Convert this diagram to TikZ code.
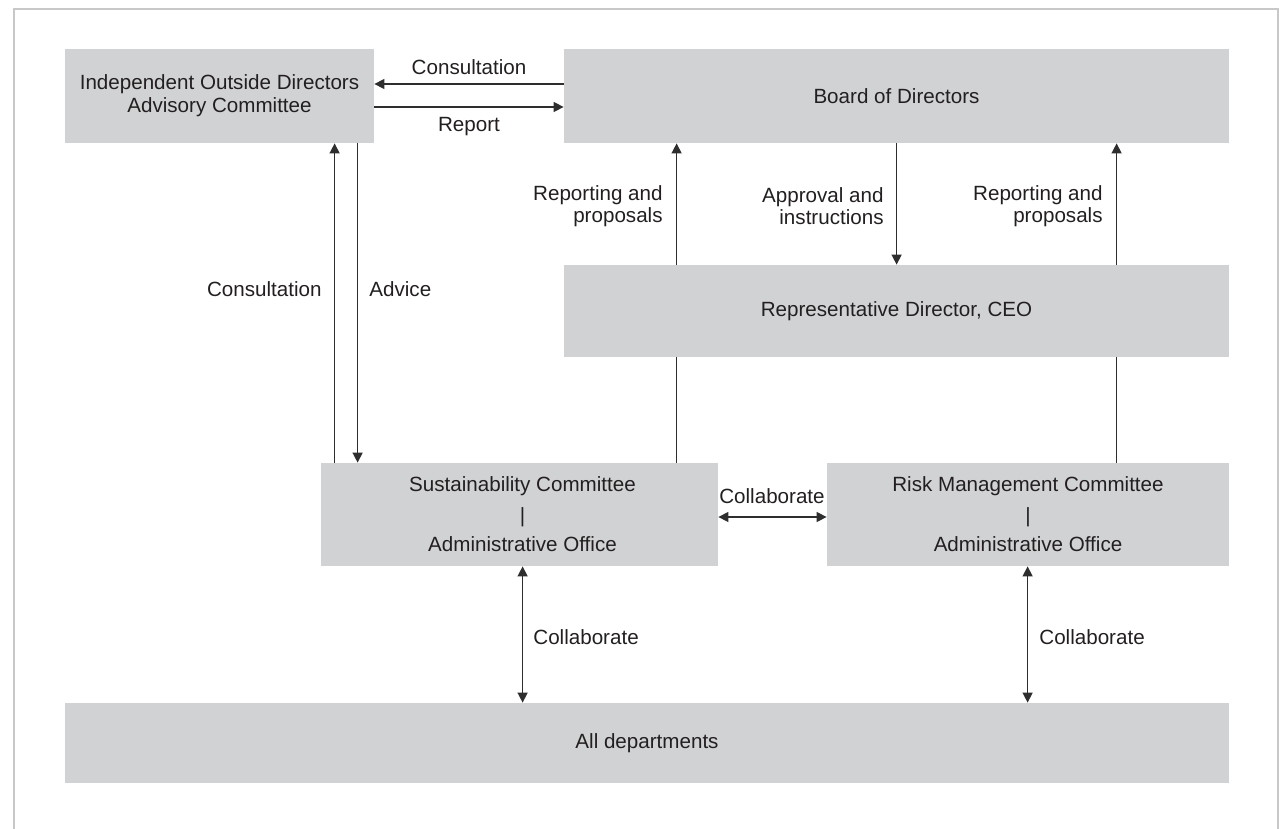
\documentclass[tikz,border=0pt]{standalone}
\usepackage{fontspec}
\setmainfont{Liberation Sans}
\usetikzlibrary{arrows.meta,calc}
\definecolor{boxgray}{HTML}{D1D2D4}
\definecolor{inkgray}{HTML}{231F20}
\definecolor{wiregray}{HTML}{2E2E2E}
\definecolor{framegray}{HTML}{C8C8C8}
\tikzset{
  unitbox/.style={fill=boxgray, draw=none, inner sep=0pt, text=inkgray, align=center,
                  font=\fontsize{10.3}{11.5}\selectfont},
  tag/.style={text=inkgray, inner sep=0pt, font=\fontsize{10.3}{11.2}\selectfont},
  wire/.style={draw=wiregray, line width=0.75pt},
  tip/.style={Triangle[length=5pt,width=5pt]},
  arr/.style={wire, -{Triangle[length=5pt,width=5pt]}},
  biarr/.style={wire, {Triangle[length=5pt,width=5pt]}-{Triangle[length=5pt,width=5pt]}},
}
\begin{document}
\begin{tikzpicture}[x=0.5pt, y=-0.5pt]
  \useasboundingbox (0,0) rectangle (1279,829);
  % outer frame
  \draw[framegray, line width=0.75pt] (14,829) -- (14,9) -- (1278,9) -- (1278,829);

  % boxes
  \node[unitbox, minimum width=154.5pt, minimum height=47pt] (iodac) at (219.5,96)
    {Independent Outside Directors\\Advisory Committee};
  \node[unitbox, minimum width=332.5pt, minimum height=47pt] (board) at (896.5,96)
    {Board of Directors};
  \node[unitbox, minimum width=332.5pt, minimum height=46pt] (ceo) at (896.5,311)
    {Representative Director, CEO};
  \node[unitbox, minimum width=198.5pt, minimum height=51.5pt] (sust) at (519.5,514.5)
    {\hspace*{3pt}Sustainability Committee\\[3.6pt]\hspace*{3pt}|\\[3.4pt]\hspace*{3pt}Administrative Office};
  \node[unitbox, minimum width=201pt, minimum height=51.5pt] (risk) at (1028,514.5)
    {Risk Management Committee\\[3.6pt]|\\[3.4pt]Administrative Office};
  \node[unitbox, minimum width=582pt, minimum height=40pt] (all) at (647,743)
    {All departments};

  % committee <-> board
  \draw[arr] ($(board.west)+(0,-12)$) -- ($(iodac.east)+(0,-12)$);
  \draw[arr] ($(iodac.east)+(0,11)$) -- ($(board.west)+(0,11)$);
  \node[tag] (lconsA) at (469,67) {Consultation};
  \node[tag] (lreport) at (469,127) {Report};

  % committee <-> sustainability
  \draw[arr] ($(sust.north west)+(14,0)$) -- ($(iodac.south west)+(270,0)$);
  \draw[arr] ($(iodac.south west)+(293,0)$) -- ($(sust.north west)+(37,0)$);
  \node[tag, anchor=east] (lconsB) at (322,289) {Consultation};
  \node[tag, anchor=west] (ladvice) at (369,289) {Advice};

  % board <-> CEO
  \draw[arr] ($(ceo.north west)+(113,0)$) -- ($(board.south west)+(113,0)$);
  \draw[arr] ($(board.south west)+(333,0)$) -- ($(ceo.north west)+(333,0)$);
  \draw[arr] ($(ceo.north west)+(553,0)$) -- ($(board.south west)+(553,0)$);
  \node[tag, anchor=east, align=right] (lrepA) at (663,206) {Reporting and\\proposals};
  \node[tag, anchor=east, align=right] (lappr) at (884,206) {Approval and\\instructions};
  \node[tag, anchor=east, align=right] (lrepB) at (1103,206) {Reporting and\\proposals};

  % committees up to CEO
  \draw[wire] ($(sust.north west)+(356,0)$) -- ($(ceo.south west)+(113,0)$);
  \draw[wire] ($(risk.north west)+(290,0)$) -- ($(ceo.south west)+(553,0)$);

  % collaboration
  \draw[biarr] ($(sust.east)+(0,2.5)$) -- ($(risk.west)+(0,2.5)$);
  \node[tag] (lcolA) at (772,496) {Collaborate};
  \draw[biarr] ($(sust.south west)+(202,0)$) -- ($(all.north west)+(458,0)$);
  \node[tag, anchor=west] (lcolB) at (533,637) {Collaborate};
  \draw[biarr] ($(risk.south west)+(201,0)$) -- ($(all.north west)+(963,0)$);
  \node[tag, anchor=west] (lcolC) at (1039,637) {Collaborate};
\end{tikzpicture}
\end{document}
